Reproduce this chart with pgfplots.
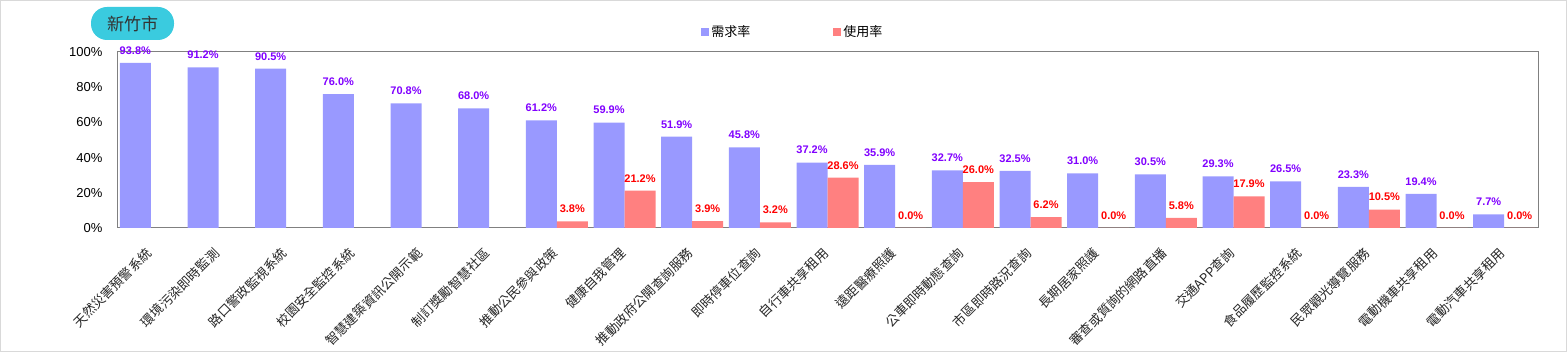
\documentclass[border=0pt]{standalone}
\usepackage{pgfplots}
\pgfplotsset{compat=1.18}
\usepackage{fontspec}
\setmainfont{Liberation Sans}
\newfontfamily\cjk{Noto Sans CJK TC}
\definecolor{barblue}{HTML}{9999FF}
\definecolor{barred}{HTML}{FF8080}
\definecolor{lblblue}{HTML}{8000FF}
\definecolor{lblred}{HTML}{FF0000}
\definecolor{pill}{HTML}{3ACBDF}
\definecolor{axgray}{HTML}{808080}
\definecolor{framegray}{HTML}{D9D9D9}
\begin{document}
\begin{tikzpicture}[x=1pt,y=1pt]
\useasboundingbox (0,0) rectangle (1567,352);
\draw[framegray, line width=1pt] (0.5,0.5) rectangle (1566.5,351.5);
\node[fill=pill, rounded corners=16pt, minimum width=83pt, minimum height=33pt, inner sep=0pt, text=black!80, font=\cjk\fontsize{17}{19}\selectfont] at (132.5,328.5) {新竹市};
\begin{axis}[at={(117pt,124pt)}, anchor=south west, scale only axis, width=1421pt, height=176pt,
  xmin=-0.5, xmax=20.5, ymin=0, ymax=100,
  ybar=0pt, bar width=31pt,
  axis line style={axgray, line width=1pt},
  xtick={0,...,20},
  xticklabels={天然災害預警系統,環境污染即時監測,路口警政監視系統,校園安全監控系統,智慧建築資訊公開示範,制訂獎勵智慧社區,推動公民參與政策,健康自我管理,推動政府公開查詢服務,即時停車位查詢,自行車共享租用,遠距醫療照護,公車即時動態查詢,市區即時路況查詢,長期居家照護,審查或質詢的網路直播,交通APP查詢,食品履歷監控系統,民眾觀光導覽服務,電動機車共享租用,電動汽車共享租用},
  xticklabel style={font=\cjk\fontsize{13}{15}\selectfont, rotate=45, anchor=east, text=black!85, yshift=-15pt, xshift=-14pt},
  ytick={0,20,40,60,80,100},
  yticklabel={\pgfmathprintnumber{\tick}\%},
  yticklabel style={font=\fontsize{13}{15}\selectfont, xshift=-11pt},
  /pgf/number format/assume math mode=true,
  major tick length=0pt, tick style={draw=none},
  nodes near coords={\pgfmathprintnumber[fixed,fixed zerofill,precision=1]{\pgfplotspointmeta}\%},
  nodes near coords style={font=\bfseries\fontsize{11}{13}\selectfont, yshift=5pt},
  clip=false,
  legend style={at={(0.4757,1.114)}, anchor=center, draw=none, fill=none, legend columns=2, font=\cjk\fontsize{13}{15}\selectfont, /tikz/every even column/.append style={column sep=81pt}},
  legend image code/.code={\fill[#1] (0pt,-4pt) rectangle (8pt,4pt);},
]
\addplot[fill=barblue, draw=none, every node near coord/.append style={text=lblblue}] coordinates {
(0,93.8) (1,91.2) (2,90.5) (3,76.0) (4,70.8) (5,68.0) (6,61.2) (7,59.9) (8,51.9) (9,45.8) (10,37.2)
(11,35.9) (12,32.7) (13,32.5) (14,31.0) (15,30.5) (16,29.3) (17,26.5) (18,23.3) (19,19.4) (20,7.7)};
\addplot[fill=barred, draw=none, every node near coord/.append style={text=lblred}] coordinates {
(6,3.8) (7,21.2) (8,3.9) (9,3.2) (10,28.6) (11,0.0) (12,26.0) (13,6.2) (14,0.0) (15,5.8) (16,17.9)
(17,0.0) (18,10.5) (19,0.0) (20,0.0)};
\legend{需求率,使用率}
\end{axis}
\end{tikzpicture}
\end{document}
